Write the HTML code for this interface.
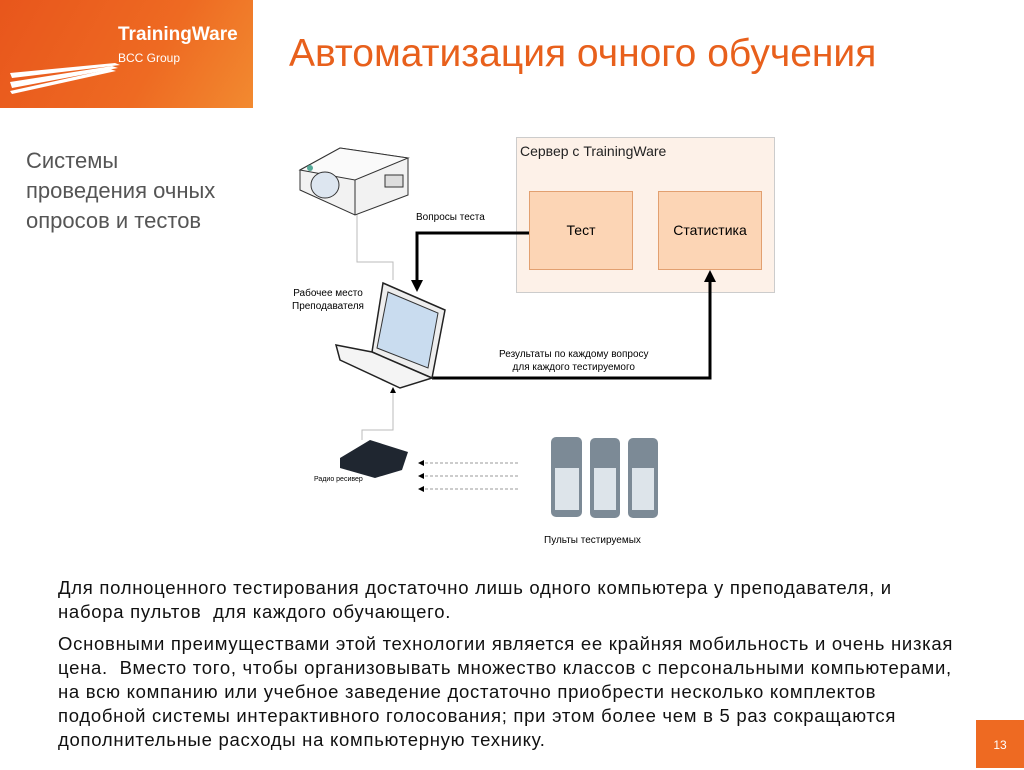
<!DOCTYPE html>
<html><head><meta charset="utf-8"><style>
body{margin:0;width:1024px;height:768px;background:#fff;position:relative;overflow:hidden;font-family:"Liberation Sans",sans-serif;}
.a{position:absolute;}
</style></head><body>
<div class="a" style="left:0;top:0;width:253px;height:108px;background:linear-gradient(120deg,#e8561c 0%,#ee6a22 60%,#f28a30 100%);"></div>
<svg class="a" style="left:0;top:0" width="253" height="108">
<polygon points="10,73 115,63 120,65 12,78" fill="#fff"/>
<polygon points="10,82 112,66 118,68 12,88" fill="#fff"/>
<polygon points="10,91 110,69 116,71 12,94" fill="#fff"/>
</svg>
<div class="a" style="left:118px;top:24px;color:#fff;font-weight:bold;font-size:19px;">TrainingWare</div>
<div class="a" style="left:118px;top:51px;color:#fff;font-size:12px;">BCC Group</div>
<div class="a" style="left:289px;top:32px;color:#e8601c;font-size:39px;">Автоматизация очного обучения</div>
<div class="a" style="left:26px;top:146px;color:#555;font-size:22px;line-height:30px;">Системы<br>проведения очных<br>опросов и тестов</div>

<div class="a" style="left:516px;top:137px;width:257px;height:154px;background:#fdf1e8;border:1px solid #ccc;"></div>
<div class="a" style="left:520px;top:143px;font-size:14px;color:#222;">Сервер с TrainingWare</div>
<div class="a" style="left:529px;top:191px;width:102px;height:77px;background:#fcd5b5;border:1px solid #e2a070;text-align:center;line-height:77px;font-size:14px;">Тест</div>
<div class="a" style="left:658px;top:191px;width:102px;height:77px;background:#fcd5b5;border:1px solid #e2a070;text-align:center;line-height:77px;font-size:14px;">Статистика</div>

<svg class="a" style="left:0;top:0" width="1024" height="768">
<polyline points="529,233 417,233 417,282" fill="none" stroke="#000" stroke-width="3"/>
<path d="M411,280h12l-6,12z" fill="#000"/>
<polyline points="432,378 710,378 710,280" fill="none" stroke="#000" stroke-width="3"/>
<path d="M704,282h12l-6,-12z" fill="#000"/>
<polyline points="357,186 357,262 393,262 393,280" fill="none" stroke="#bbb" stroke-width="1"/>
<polyline points="393,392 393,430 362,430 362,440" fill="none" stroke="#bbb" stroke-width="1"/>
<path d="M357,183l-3,6h6z M393,387l-3,6h6z" fill="#000"/>
<g stroke="#999" stroke-dasharray="3,2"><line x1="420" y1="463" x2="520" y2="463"/><line x1="420" y1="476" x2="520" y2="476"/><line x1="420" y1="489" x2="520" y2="489"/></g>
<path d="M418,463l6,-3v6z M418,476l6,-3v6z M418,489l6,-3v6z" fill="#000"/>
<polygon points="300,170 340,148 408,158 408,195 355,215 300,190" fill="#f2f2f2" stroke="#333"/>
<polygon points="300,170 340,148 408,158 355,180" fill="#fafafa" stroke="#333"/>
<line x1="355" y1="180" x2="355" y2="215" stroke="#333"/>
<rect x="385" y="175" width="18" height="12" fill="#ddd" stroke="#333"/>
<ellipse cx="325" cy="185" rx="14" ry="13" fill="#dde6f0" stroke="#333"/>
<circle cx="310" cy="168" r="3" fill="#5a9"/>
<polygon points="383,283 445,310 432,378 372,352" fill="#eee" stroke="#222" stroke-width="1.5"/>
<polygon points="388,292 438,313 428,368 377,348" fill="#c9dcef" stroke="#333"/>
<polygon points="336,345 372,352 432,378 400,388 340,360" fill="#f4f4f4" stroke="#222" stroke-width="1.5"/>
<polygon points="340,458 370,440 408,452 402,470 375,478 340,468" fill="#1f2630"/>
<g fill="#7c8a96"><rect x="551" y="437" width="31" height="80" rx="5"/><rect x="590" y="438" width="30" height="80" rx="5"/><rect x="628" y="438" width="30" height="80" rx="5"/></g>
<g fill="#dde4ea"><rect x="555" y="468" width="24" height="42"/><rect x="594" y="468" width="22" height="42"/><rect x="632" y="468" width="22" height="42"/></g>
</svg>
<div class="a" style="left:416px;top:212px;font-size:10px;">Вопросы теста</div>
<div class="a" style="left:292px;top:287px;font-size:10px;line-height:13px;text-align:center;">Рабочее место<br>Преподавателя</div>
<div class="a" style="left:499px;top:348px;font-size:10px;line-height:13px;text-align:center;">Результаты по каждому вопросу<br>для каждого тестируемого</div>
<div class="a" style="left:314px;top:476px;font-size:7px;">Радио ресивер</div>
<div class="a" style="left:544px;top:535px;font-size:10px;">Пульты тестируемых</div>
<div class="a" style="left:58px;top:576px;font-size:18.5px;letter-spacing:0.72px;line-height:24px;color:#111;white-space:nowrap;">Для полноценного тестирования достаточно лишь одного компьютера у преподавателя, и<br>набора пультов&nbsp; для каждого обучающего.<div style="height:8px"></div>Основными преимуществами этой технологии является ее крайняя мобильность и очень низкая<br>цена.&nbsp; Вместо того, чтобы организовывать множество классов с персональными компьютерами,<br>на всю компанию или учебное заведение достаточно приобрести несколько комплектов<br>подобной системы интерактивного голосования; при этом более чем в 5 раз сокращаются<br>дополнительные расходы на компьютерную технику.</div>
<div class="a" style="left:976px;top:720px;width:48px;height:48px;background:#ee6a22;color:#fff;font-size:12px;text-align:center;line-height:50px;">13</div>
</body></html>
